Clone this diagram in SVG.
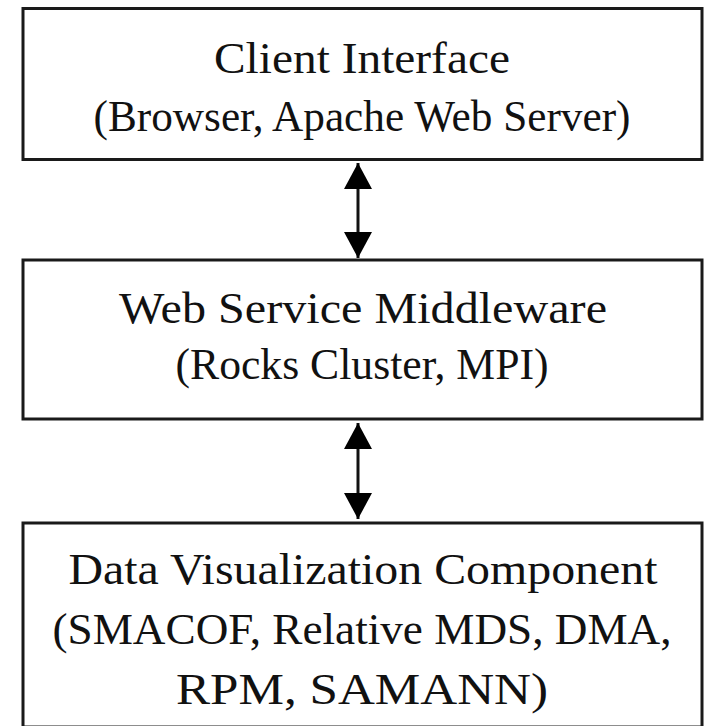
<svg xmlns="http://www.w3.org/2000/svg" width="710" height="726" viewBox="0 0 710 726">
<style>
.box{fill:#fff;stroke:#1a1a1a;stroke-width:3}
.t{font-family:"Liberation Serif","Times New Roman",serif;font-size:45px;fill:#111;text-anchor:middle}
.c{stroke:#111;stroke-width:3;fill:none}
</style>
<defs>
<marker id="ah" markerUnits="userSpaceOnUse" markerWidth="30" markerHeight="28" viewBox="0 0 26 28" refX="26" refY="14" orient="auto-start-reverse">
<path d="M0,0 L26,14 L0,28 Z" fill="#000"/>
</marker>
</defs>
<rect width="710" height="726" fill="#fff"/>
<g id="client">
<rect class="box" x="23" y="8.5" width="679" height="151"/>
<text class="t" x="362" y="73" textLength="296" lengthAdjust="spacingAndGlyphs">Client Interface</text>
<text class="t" x="362" y="131" textLength="537" lengthAdjust="spacingAndGlyphs">(Browser, Apache Web Server)</text>
</g>
<g id="middleware">
<rect class="box" x="23" y="260" width="679" height="159"/>
<text class="t" x="363" y="323" textLength="488" lengthAdjust="spacingAndGlyphs">Web Service Middleware</text>
<text class="t" x="362" y="379" textLength="373" lengthAdjust="spacingAndGlyphs">(Rocks Cluster, MPI)</text>
</g>
<g id="dataviz">
<rect class="box" x="23" y="523" width="679" height="204"/>
<text class="t" x="363" y="584" textLength="589" lengthAdjust="spacingAndGlyphs">Data Visualization Component</text>
<text class="t" x="362" y="644" textLength="619" lengthAdjust="spacingAndGlyphs">(SMACOF, Relative MDS, DMA,</text>
<text class="t" x="362" y="704" textLength="372" lengthAdjust="spacingAndGlyphs">RPM, SAMANN)</text>
</g>
<g id="connectors">
<line class="c" x1="358" y1="163" x2="358" y2="258" marker-start="url(#ah)" marker-end="url(#ah)"/>
<line class="c" x1="358" y1="423" x2="358" y2="519" marker-start="url(#ah)" marker-end="url(#ah)"/>
</g>
</svg>
